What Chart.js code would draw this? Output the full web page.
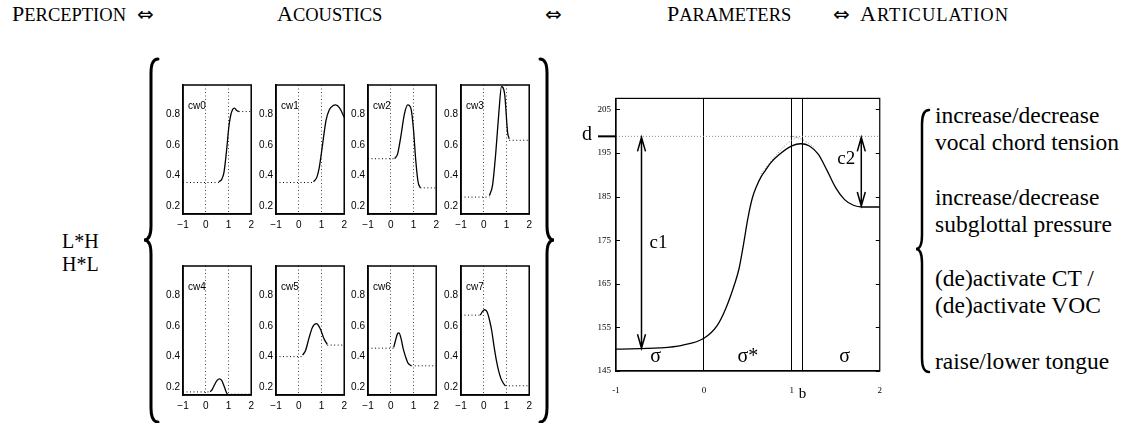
<!DOCTYPE html>
<html>
<head>
<meta charset="utf-8">
<script src="https://cdn.jsdelivr.net/npm/chart.js@4.4.0/dist/chart.umd.min.js"></script>
<style>
  body { margin: 0; background: #fff; width: 1125px; height: 423px; overflow: hidden; position: relative; }
  canvas { position: absolute; }
  .t { position: absolute; font-family: "Liberation Serif", "Times New Roman", serif; color: #000; white-space: nowrap; line-height: 1; }
  .hdr { font-size: 22px; top: 3px; }
  .hdr .sc { font-size: 18.5px; }
  .arr { font-family: "DejaVu Sans", sans-serif; font-size: 20px; }
  .art { font-size: 23.5px; left: 935px; }
  .tone { font-size: 20px; left: 62px; }
</style>
</head>
<body>
<div class="t hdr" style="left:12px">P<span class="sc">ERCEPTION</span></div>
<div class="t hdr arr" style="left:137px;top:4px">⇔</div>
<div class="t hdr" style="left:277px">A<span class="sc">COUSTICS</span></div>
<div class="t hdr arr" style="left:545px;top:4px">⇔</div>
<div class="t hdr" style="left:667px">P<span class="sc">ARAMETERS</span></div>
<div class="t hdr arr" style="left:833px;top:4px">⇔</div>
<div class="t hdr" style="left:860px;letter-spacing:1px">A<span class="sc">RTICULATION</span></div>

<div class="t tone" style="top:231px">L*H</div>
<div class="t tone" style="top:254px">H*L</div>

<div class="t art" style="top:104px">increase/decrease</div>
<div class="t art" style="top:131px">vocal chord tension</div>
<div class="t art" style="top:186px">increase/decrease</div>
<div class="t art" style="top:213px">subglottal pressure</div>
<div class="t art" style="top:267px">(de)activate CT /</div>
<div class="t art" style="top:294px">(de)activate VOC</div>
<div class="t art" style="top:350px">raise/lower tongue</div>

<canvas id="braces" width="1125" height="423" style="left:0;top:0"></canvas>

<script>
// small panels: contour of each codeword, x in syllables, y normalised F0
const xTicksSmall = [-1, 0, 1, 2];
const yTicksSmall = [0.2, 0.4, 0.6, 0.8];
const panelNames = ['cw0', 'cw1', 'cw2', 'cw3', 'cw4', 'cw5', 'cw6', 'cw7'];

const cw0 = [[0.58,0.36],[0.7,0.375],[0.8,0.42],[0.87,0.5],[0.94,0.6],[1.01,0.71],[1.08,0.78],[1.18,0.83],[1.27,0.84],[1.35,0.825],[1.45,0.817]];
const cw1 = [[0.65,0.36],[0.8,0.39],[0.9,0.45],[1.0,0.55],[1.1,0.66],[1.2,0.76],[1.35,0.83],[1.5,0.855],[1.62,0.86],[1.8,0.84],[2.0,0.78]];
const cw2 = [[0.17,0.51],[0.3,0.54],[0.45,0.66],[0.6,0.8],[0.75,0.86],[0.9,0.83],[1.0,0.7],[1.1,0.5],[1.2,0.36],[1.3,0.32]];
const cw3 = [[0.25,0.27],[0.39,0.34],[0.53,0.55],[0.67,0.82],[0.78,0.98],[0.92,0.93],[1.05,0.68],[1.12,0.64]];
const cw4 = [[0.2,0.17],[0.3,0.19],[0.4,0.22],[0.5,0.245],[0.6,0.255],[0.7,0.245],[0.8,0.21],[0.9,0.17],[0.95,0.155]];
const cw5 = [[0.17,0.41],[0.3,0.44],[0.45,0.52],[0.6,0.59],[0.78,0.615],[0.95,0.58],[1.1,0.52],[1.25,0.48]];
const cw6 = [[0.13,0.46],[0.2,0.5],[0.3,0.55],[0.36,0.555],[0.45,0.52],[0.55,0.45],[0.65,0.4],[0.75,0.36],[0.9,0.34]];
const cw7 = [[-0.15,0.67],[-0.05,0.695],[0.05,0.705],[0.15,0.69],[0.25,0.64],[0.35,0.57],[0.45,0.47],[0.55,0.38],[0.65,0.31],[0.75,0.26],[0.85,0.23],[0.95,0.21]];
const curves = [cw0, cw1, cw2, cw3, cw4, cw5, cw6, cw7];

// dotted level before and after each contour (null = none)
const startLevels = [0.355, 0.355, 0.51, 0.26, 0.17, 0.40, 0.455, 0.67];
const endLevels = [0.817, null, 0.32, 0.63, 0.155, 0.475, 0.34, 0.21];

// big panel: F0 (Hz) over syllables
const paramX = [-1, -0.5, -0.25, 0, 0.15, 0.25, 0.35, 0.4, 0.45, 0.5, 0.55, 0.6, 0.65, 0.7, 0.75, 0.85, 1.0, 1.1, 1.2, 1.3, 1.4, 1.5, 1.6, 1.7, 1.8, 2.0];
const paramY = [150, 150.3, 150.9, 152.5, 155.4, 159.4, 165, 168.5, 174, 180, 184.6, 187.4, 189.5, 191, 192.5, 194.5, 196.6, 197.1, 196.6, 194.7, 191, 187, 184.3, 183, 182.6, 182.6];
const peakDotX = [0.65, 0.8, 0.95, 1.05, 1.1];
const peakDotY = [190.2, 194.0, 197.2, 198.5, 198.8];
const fallDotX = [1.0, 1.08, 1.16, 1.25];
const fallDotY = [198.8, 198.4, 197.6, 196.4];
const dLevel = 198.8;
const bPos = 1.12;
const bigXTicks = [-1, 0, 1, bPos, 2];
const bigXLabels = ['-1', '0', '1', 'b', '2'];
const bigYTicks = [145, 155, 165, 175, 185, 195, 205];
const arrowX = [-0.71, 1.79];
const arrowTo = [150, 182.6];
const arrowNames = ['c1', 'c2'];
const sylX = [-0.55, 0.5, 1.6];
const sylNames = ['σ', 'σ*', 'σ'];

const sans = '"Liberation Sans Narrow", "Liberation Sans", Arial, sans-serif';
const serif = '"Liberation Serif", "Times New Roman", serif';

function fmtMinus(v) {
  return v < 0 ? '\u2212' + Math.abs(v) : String(v);
}

function pts(xs, ys) {
  return xs.map((x, i) => ({ x: x, y: ys[i] }));
}

// frame around plot area + panel name
const smallFrame = {
  id: 'smallFrame',
  afterDraw(chart, args, opts) {
    const { ctx, chartArea: a } = chart;
    ctx.save();
    ctx.strokeStyle = '#000';
    ctx.lineWidth = 1.5;
    ctx.strokeRect(a.left, a.top, a.right - a.left, a.bottom - a.top);
    ctx.font = '10px ' + sans;
    ctx.fillStyle = '#000';
    ctx.textBaseline = 'middle';
    ctx.fillText(opts.name, a.left + 5, a.top + 21);
    ctx.restore();
  }
};

function smallChart(i) {
  const col = i % 4, row = Math.floor(i / 4);
  const areaLeft = [183, 276, 368, 461][col];
  const areaTop = [81, 262][row];
  const cv = document.createElement('canvas');
  cv.width = 102; cv.height = 160;
  cv.style.left = (areaLeft - 26) + 'px';
  cv.style.top = (areaTop - 5) + 'px';
  document.body.appendChild(cv);

  const curve = curves[i];
  const first = curve[0], last = curve[curve.length - 1];
  const dotted = { borderColor: '#000', borderWidth: 1, borderDash: [1, 2.5], pointRadius: 0, tension: 0 };
  const datasets = [
    { data: curve.map(p => ({ x: p[0], y: p[1] })), borderColor: '#000', borderWidth: 1.3, pointRadius: 0, cubicInterpolationMode: 'monotone' },
    Object.assign({ data: [{ x: -1, y: startLevels[i] }, { x: first[0], y: startLevels[i] }] }, dotted)
  ];
  if (endLevels[i] !== null) {
    datasets.push(Object.assign({ data: [{ x: last[0], y: endLevels[i] }, { x: 2, y: endLevels[i] }] }, dotted));
  }

  new Chart(cv, {
    type: 'line',
    data: { datasets },
    plugins: [smallFrame],
    options: {
      responsive: false, animation: false, devicePixelRatio: 1,
      layout: { padding: { top: 5, right: 6, left: 0, bottom: 0 } },
      plugins: { legend: { display: false }, tooltip: { enabled: false }, smallFrame: { name: panelNames[i] } },
      scales: {
        x: {
          type: 'linear', min: -1, max: 2,
          afterBuildTicks: s => { s.ticks = xTicksSmall.map(v => ({ value: v })); },
          afterFit: s => { s.height = 22; },
          grid: { color: c => (c.tick && (c.tick.value === 0 || c.tick.value === 1)) ? '#444' : 'rgba(0,0,0,0)', lineWidth: 1, drawTicks: false },
          border: { display: true, color: '#000', width: 1.5, dash: [1, 2.5] },
          ticks: { font: { family: sans, size: 10 }, color: '#000', padding: 5, maxRotation: 0, callback: v => fmtMinus(v) }
        },
        y: {
          type: 'linear', min: 0.15, max: 0.99,
          afterBuildTicks: s => { s.ticks = yTicksSmall.map(v => ({ value: v })); },
          afterFit: s => { s.width = 26; },
          grid: { display: false, drawTicks: false },
          border: { display: true, color: '#000', width: 1.5 },
          ticks: { font: { family: sans, size: 10 }, color: '#000', padding: 3, callback: v => v.toFixed(1) }
        }
      }
    }
  });
}

for (let i = 0; i < 8; i++) smallChart(i);

// big panel decorations: frame, inward ticks, d marker, arrows, syllable labels
const paramMarks = {
  id: 'paramMarks',
  afterDraw(chart) {
    const { ctx, chartArea: a, scales: { x, y } } = chart;
    ctx.save();
    ctx.strokeStyle = '#000';
    ctx.fillStyle = '#000';
    ctx.lineWidth = 1.2;
    ctx.strokeRect(a.left, a.top, a.right - a.left, a.bottom - a.top);
    ctx.lineWidth = 1;
    y.ticks.forEach(t => {
      const py = Math.round(y.getPixelForValue(t.value)) + 0.5;
      ctx.beginPath();
      ctx.moveTo(a.left, py); ctx.lineTo(a.left + 4, py);
      ctx.moveTo(a.right, py); ctx.lineTo(a.right - 4, py);
      ctx.stroke();
    });
    // d marker
    const pd = y.getPixelForValue(dLevel);
    ctx.lineWidth = 2;
    ctx.beginPath(); ctx.moveTo(a.left - 18, pd); ctx.lineTo(a.left, pd); ctx.stroke();
    ctx.font = '20px ' + serif;
    ctx.textAlign = 'center'; ctx.textBaseline = 'alphabetic';
    ctx.fillText('d', a.left - 29, pd + 4);
    // arrows between d and the contour
    ctx.lineWidth = 1.5;
    arrowX.forEach((xv, i) => {
      const px = x.getPixelForValue(xv);
      const y1 = pd + 1, y2 = y.getPixelForValue(arrowTo[i]) - 1;
      ctx.beginPath();
      ctx.moveTo(px, y1); ctx.lineTo(px, y2);
      ctx.moveTo(px - 4, y1 + 14); ctx.lineTo(px, y1); ctx.lineTo(px + 4, y1 + 14);
      ctx.moveTo(px - 4, y2 - 14); ctx.lineTo(px, y2); ctx.lineTo(px + 4, y2 - 14);
      ctx.stroke();
      ctx.font = '19px ' + serif;
      ctx.textBaseline = 'middle';
      if (i === 0) ctx.fillText(arrowNames[i], px + 17, (y1 + y2) / 2);
      else ctx.fillText(arrowNames[i], px - 15, y1 + 22);
    });
    // syllable labels
    ctx.font = '20px ' + serif;
    ctx.textBaseline = 'middle';
    sylX.forEach((xv, i) => {
      ctx.fillText(sylNames[i], x.getPixelForValue(xv), a.bottom - 14);
    });
    ctx.restore();
  }
};

const bigCanvas = document.createElement('canvas');
bigCanvas.width = 340; bigCanvas.height = 317;
bigCanvas.style.left = '556px'; bigCanvas.style.top = '88px';
document.body.appendChild(bigCanvas);

new Chart(bigCanvas, {
  type: 'line',
  data: {
    datasets: [
      { data: pts(paramX, paramY), borderColor: '#000', borderWidth: 1.3, pointRadius: 0, cubicInterpolationMode: 'monotone' },
      { data: [{ x: -1, y: dLevel }, { x: 2, y: dLevel }], borderColor: '#888', borderWidth: 1, borderDash: [1, 2], pointRadius: 0 },
      { data: pts(peakDotX, peakDotY), borderColor: '#888', borderWidth: 1, borderDash: [1, 2], pointRadius: 0, cubicInterpolationMode: 'monotone' },
      { data: pts(fallDotX, fallDotY), borderColor: '#888', borderWidth: 1, borderDash: [1, 2], pointRadius: 0, cubicInterpolationMode: 'monotone' }
    ]
  },
  plugins: [paramMarks],
  options: {
    responsive: false, animation: false, devicePixelRatio: 1,
    layout: { padding: { top: 5, right: 13, left: 0, bottom: 0 } },
    plugins: { legend: { display: false }, tooltip: { enabled: false } },
    scales: {
      x: {
        type: 'linear', min: -1, max: 2,
        afterBuildTicks: s => { s.ticks = bigXTicks.map(v => ({ value: v })); },
        afterFit: s => { s.height = 34; },
        grid: { color: c => (c.tick && c.tick.value > -1 && c.tick.value < 2) ? '#000' : 'rgba(0,0,0,0)', lineWidth: 1, drawTicks: false },
        border: { display: true, color: '#000', width: 1.2 },
        ticks: {
          color: '#000', padding: 14, maxRotation: 0, autoSkip: false,
          font: c => (c.tick && c.tick.value === bPos) ? { family: serif, size: 15 } : { family: serif, size: 9 },
          callback: v => bigXLabels[bigXTicks.indexOf(v)]
        }
      },
      y: {
        type: 'linear', min: 145, max: 207.5,
        afterBuildTicks: s => { s.ticks = bigYTicks.map(v => ({ value: v })); },
        afterFit: s => { s.width = 60; },
        grid: { display: false, drawTicks: false },
        border: { display: true, color: '#000', width: 1.2 },
        ticks: { font: { family: serif, size: 9 }, color: '#000', padding: 5 }
      }
    }
  }
});

// curly braces grouping the panels
function brace(ctx, tipX, stemX, endX, yTop, yBot, yMid) {
  const r = 14;
  ctx.beginPath();
  ctx.moveTo(endX, yTop);
  ctx.quadraticCurveTo(stemX, yTop, stemX, yTop + r);
  ctx.lineTo(stemX, yMid - r);
  ctx.quadraticCurveTo(stemX, yMid, tipX, yMid);
  ctx.quadraticCurveTo(stemX, yMid, stemX, yMid + r);
  ctx.lineTo(stemX, yBot - r);
  ctx.quadraticCurveTo(stemX, yBot, endX, yBot);
  ctx.stroke();
}
const bctx = document.getElementById('braces').getContext('2d');
bctx.strokeStyle = '#000';
bctx.lineWidth = 3;
bctx.lineCap = 'round';
brace(bctx, 144, 151, 158, 59, 422, 240);
brace(bctx, 554, 547, 540, 59, 422, 240);
bctx.lineWidth = 2.5;
brace(bctx, 916, 922, 929, 110, 372, 249);
</script>
</body>
</html>
